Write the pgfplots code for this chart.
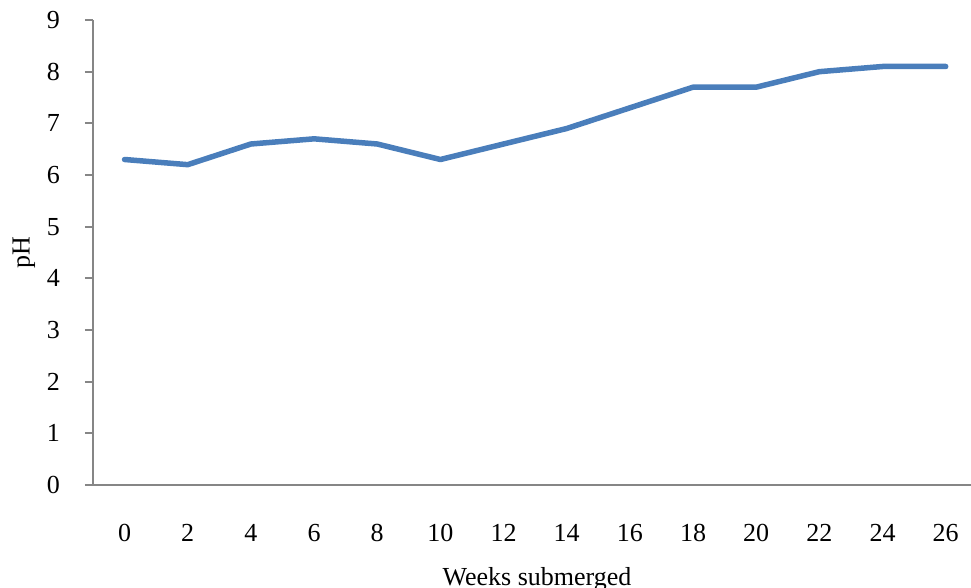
\documentclass[border=0pt]{standalone}
\usepackage{fontspec}
\setmainfont{Liberation Serif}
\usepackage{pgfplots}
\pgfplotsset{compat=1.18}
\definecolor{linecol}{HTML}{4A7EBB}
\definecolor{axcol}{HTML}{868686}

\begin{document}
\begin{tikzpicture}[x=1pt,y=1pt]
\useasboundingbox (-93,-103) rectangle (878,485);
\begin{axis}[
  at={(0,0)}, anchor=south west,
  scale only axis,
  width=878pt, height=465pt,
  xmin=-0.5, xmax=13.4,
  ymin=0, ymax=9,
  axis x line*=bottom, axis y line*=left,
  axis line style={draw=axcol, line width=2pt},
  xtick={0,...,13},
  xticklabels={0,2,4,6,8,10,12,14,16,18,20,22,24,26},
  x tick style={draw=none},
  ytick={0,...,9},
  y tick style={draw=axcol, line width=2pt},
  tick align=outside,
  major tick length=8pt,
  /pgf/number format/assume math mode=true,
  tick label style={font=\fontsize{26}{30}\selectfont},
  xticklabel style={anchor=north, inner sep=0pt, yshift=-31pt},
  yticklabel style={anchor=east, inner sep=0pt, xshift=-25pt},
  every axis y label/.style={at={(axis description cs:-0.0786,0.5)}, rotate=90,
    anchor=center, font=\fontsize{26}{30}\selectfont},
  every axis x label/.style={at={(axis description cs:0.5057,-0.2172)}, anchor=base,
    font=\fontsize{26}{30}\selectfont},
  xlabel={Weeks submerged},
  ylabel={pH},
  clip=false,
]
\addplot[color=linecol, line width=5.5pt, line join=round, line cap=round] coordinates {
  (0,6.3) (1,6.2) (2,6.6) (3,6.7) (4,6.6) (5,6.3) (6,6.6)
  (7,6.9) (8,7.3) (9,7.7) (10,7.7) (11,8.0) (12,8.1) (13,8.1)
};
\end{axis}
\end{tikzpicture}
\end{document}
